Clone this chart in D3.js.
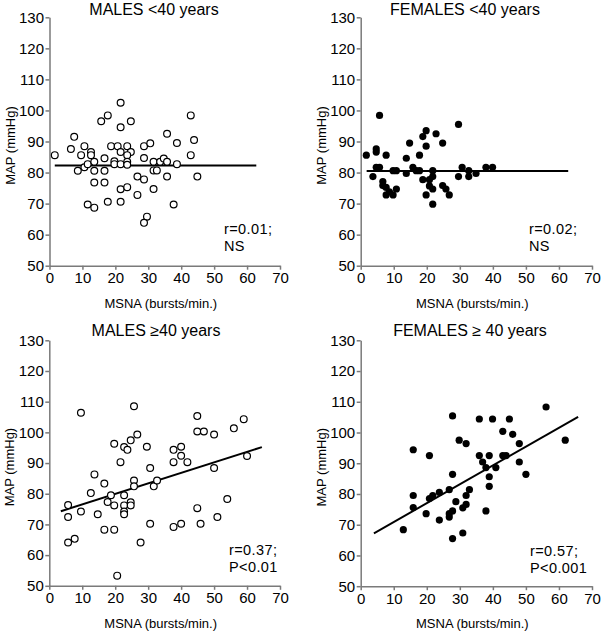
<!DOCTYPE html>
<html><head><meta charset="utf-8">
<script src="https://cdn.jsdelivr.net/npm/d3@7/dist/d3.min.js"></script>
<style>
body{margin:0;background:#fff;}
text{font-family:"Liberation Sans",Arial,sans-serif;fill:#000;}
</style></head>
<body><svg id="c" width="603" height="634"></svg>
<script>
// ---- data (MSNA bursts/min, MAP mmHg) ----
const malesUnder40 = [[1.6,85.6],[6.5,87.6],[7.5,91.5],[8.6,80.6],[9.6,85.6],[10.6,88.5],[10.6,81.7],[11.6,82.7],[12.6,86.6],[12.6,85.6],[13.6,83.5],[13.6,80.6],[13.6,76.8],[11.6,69.7],[13.6,68.7],[15.7,96.5],[17.7,98.4],[16.7,84.6],[16.7,80.6],[16.7,76.8],[17.7,70.6],[18.7,88.5],[19.7,83.6],[19.7,82.7],[20.7,88.5],[21.6,102.5],[21.6,94.6],[21.6,86.6],[21.6,82.7],[21.6,74.6],[21.6,70.6],[23.6,88.5],[24.7,86.6],[23.6,85.6],[23.6,83.5],[23.6,82.5],[24.7,96.5],[23.6,75.3],[26.7,78.7],[26.7,72.8],[28.7,77.8],[28.7,88.5],[28.7,84.7],[30.6,89.4],[29.6,65.8],[28.7,63.8],[31.6,74.7],[31.6,83.5],[31.6,80.7],[32.6,80.7],[33.6,83.5],[34.7,84.5],[35.7,83.5],[35.7,92.5],[35.7,78.7],[38.7,89.5],[37.7,69.7],[38.7,82.7],[42.9,98.4],[42.9,85.6],[43.9,90.5],[44.9,78.7]];
const femalesUnder40 = [[1.7,85.6],[3.7,78.7],[4.7,87.6],[4.7,86.6],[4.7,81.7],[5.7,98.4],[5.7,81.7],[6.7,77.1],[6.7,75.8],[7.7,85.6],[7.7,75.2],[7.7,72.8],[8.7,73.8],[9.8,72.8],[9.8,80.6],[10.8,80.6],[10.8,74.7],[13.8,84.6],[13.8,79.7],[14.8,89.5],[15.8,81.7],[17.8,80.6],[17.8,85.6],[16.8,80.6],[18.8,91.6],[19.8,93.5],[19.8,88.5],[18.8,77.7],[19.8,72.8],[20.8,77.7],[20.8,75.7],[21.8,80.6],[21.8,78.7],[21.8,74.7],[21.8,69.8],[22.8,92.5],[24.8,89.5],[24.8,75.8],[25.8,74.7],[26.8,72.8],[29.6,95.5],[29.6,78.7],[30.7,81.7],[32.7,80.6],[32.7,78.7],[34.9,79.7],[37.9,81.7],[39.9,81.7]];
const malesOver40 = [[5.7,76.3],[5.7,72.4],[5.7,64.1],[7.7,65.3],[9.6,106.4],[9.6,74.2],[12.6,80.2],[13.7,86.3],[14.7,73.3],[16.7,83.3],[16.7,68.3],[17.7,77.3],[18.7,79.5],[19.7,96.3],[19.7,76.2],[19.7,68.3],[20.6,53.3],[21.6,90.3],[22.7,95.2],[23.7,94.3],[22.7,79.5],[22.7,76.2],[22.7,74.2],[22.7,73.3],[24.7,97.4],[24.7,77.2],[24.7,76.2],[25.7,108.5],[25.7,84.3],[25.7,82.4],[26.7,99.3],[27.7,64.1],[29.6,95.3],[30.6,88.4],[30.6,70.2],[31.7,82.4],[32.7,84.3],[37.7,94.3],[37.7,90.3],[37.7,69.2],[40.0,95.3],[40.0,92.4],[40.0,70.2],[41.9,90.3],[44.9,105.3],[44.9,100.3],[44.9,75.3],[46.9,100.3],[45.9,70.2],[50.0,99.3],[50.0,88.4],[51.0,72.4],[54.0,78.3],[56.0,101.3],[59.0,104.3],[60.0,92.3]];
const femalesOver40 = [[12.9,68.4],[15.9,94.4],[15.9,79.5],[15.9,75.6],[19.8,73.6],[20.8,92.5],[20.8,78.5],[21.8,79.5],[23.8,80.5],[23.8,71.5],[26.8,81.4],[26.8,72.5],[26.8,73.6],[27.8,105.4],[27.8,86.4],[27.8,74.5],[27.8,65.5],[28.8,77.5],[29.8,97.5],[30.9,75.5],[30.9,67.3],[31.9,96.4],[31.9,79.5],[31.9,76.6],[32.9,81.4],[35.9,104.4],[35.9,92.5],[36.9,90.4],[37.9,88.6],[37.9,74.5],[38.9,92.5],[38.9,85.6],[38.9,82.5],[39.9,104.4],[40.9,88.6],[43.0,100.4],[43.0,92.5],[44.0,92.5],[45.0,104.4],[46.0,99.4],[48.0,96.4],[48.0,90.4],[50.0,86.4],[56.1,108.3],[61.9,97.5]];

// regression lines [[x1,y1],[x2,y2]]
const lineMalesUnder40 = [[1.6,82.3],[62.8,82.3]];
const lineFemalesUnder40 = [[1.8,80.5],[62.8,80.5]];
const lineMalesOver40 = [[3.5,74.3],[64.5,95.2]];
const lineFemalesOver40 = [[4.0,67.2],[65.8,105.1]];

const titles = ["MALES <40 years","FEMALES <40 years","MALES \u226540 years","FEMALES \u2265 40 years"];
const stats = [["r=0.01;","NS"],["r=0.02;","NS"],["r=0.37;","P<0.01"],["r=0.57;","P<0.001"]];
const xTicks = [0,10,20,30,40,50,60,70];
const yTicks = [50,60,70,80,90,100,110,120,130];
const xLabel = "MSNA (bursts/min.)";
const yLabel = "MAP (mmHg)";

// ---- layout ----
const panels = [
  {data:malesUnder40, line:lineMalesUnder40, filled:false, x0:49.5, x1:280, yb:265.7, yt:17.3, titleX:154, titleY:15, statX:224, statY:234},
  {data:femalesUnder40, line:lineFemalesUnder40, filled:true, x0:360.7, x1:592, yb:265.7, yt:17.3, titleX:465, titleY:15, statX:529, statY:234},
  {data:malesOver40, line:lineMalesOver40, filled:false, x0:49.3, x1:280, yb:585.8, yt:340.3, titleX:156, titleY:336, statX:229, statY:555},
  {data:femalesOver40, line:lineFemalesOver40, filled:true, x0:360.7, x1:592, yb:586.2, yt:340.3, titleX:470, titleY:336, statX:530, statY:556}
];

const svg = d3.select("#c");
panels.forEach((p,i)=>{
  const x = d3.scaleLinear().domain([0,70]).range([p.x0,p.x1]);
  const y = d3.scaleLinear().domain([50,130]).range([p.yb,p.yt]);
  const g = svg.append("g");

  const ax = g.append("g").attr("transform",`translate(0,${p.yb})`)
    .call(d3.axisBottom(x).tickValues(xTicks).tickSize(4).tickSizeOuter(0).tickPadding(3));
  const ay = g.append("g").attr("transform",`translate(${p.x0},0)`)
    .call(d3.axisLeft(y).tickValues(yTicks).tickSize(4).tickSizeOuter(0).tickPadding(1.5));
  [ax,ay].forEach(a=>{
    a.select(".domain").attr("stroke","#7a7a7a").attr("stroke-width",1.5);
    a.selectAll(".tick line").attr("stroke","#7a7a7a").attr("stroke-width",1.5);
    a.selectAll(".tick text").attr("font-size",15).attr("font-family","Liberation Sans, Arial, sans-serif").attr("fill","#000");
  });

  // regression line
  g.append("line")
    .attr("x1",x(p.line[0][0])).attr("y1",y(p.line[0][1]))
    .attr("x2",x(p.line[1][0])).attr("y2",y(p.line[1][1]))
    .attr("stroke","#000").attr("stroke-width",2);

  // points
  g.selectAll("circle.pt").data(p.data).join("circle").attr("class","pt")
    .attr("cx",d=>x(d[0])).attr("cy",d=>y(d[1]))
    .attr("r",p.filled?3.6:3.4)
    .attr("fill",p.filled?"#000":"#fff")
    .attr("stroke","#000").attr("stroke-width",p.filled?0:1.2);

  // title
  g.append("text").attr("x",p.titleX).attr("y",p.titleY).attr("text-anchor","middle")
    .attr("font-size",16).text(titles[i]);
  // axis labels
  g.append("text").attr("x",(p.x0+p.x1)/2-4).attr("y",p.yb+42).attr("text-anchor","middle")
    .attr("font-size",13).text(xLabel);
  g.append("text").attr("transform",`translate(${p.x0-35},${(p.yb+p.yt)/2+4}) rotate(-90)`)
    .attr("text-anchor","middle").attr("font-size",13).text(yLabel);
  // stats
  g.append("text").attr("x",p.statX).attr("y",p.statY).attr("font-size",14.5).attr("letter-spacing",0.4).text(stats[i][0]);
  g.append("text").attr("x",p.statX).attr("y",p.statY+17).attr("font-size",14.5).attr("letter-spacing",0.4).text(stats[i][1]);
});
</script></body></html>
